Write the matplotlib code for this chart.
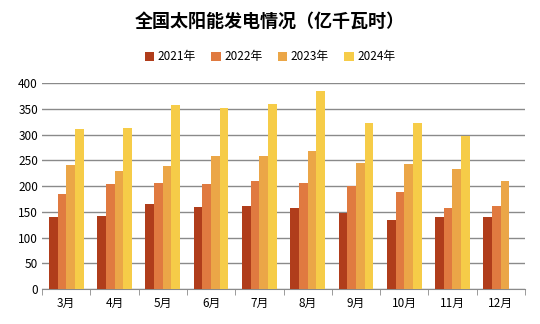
import matplotlib
matplotlib.use('Agg')
import matplotlib.pyplot as plt
import numpy as np

plt.rcParams['font.family'] = ['Noto Sans CJK SC', 'DejaVu Sans']

months = ['3月', '4月', '5月', '6月', '7月', '8月', '9月', '10月', '11月', '12月']
years = ['2021年', '2022年', '2023年', '2024年']
v2021 = [140, 142, 166, 160, 162, 158, 148, 135, 140, 140]
v2022 = [185, 204, 206, 204, 210, 206, 200, 189, 158, 162]
v2023 = [241, 230, 239, 259, 259, 268, 245, 243, 234, 210]
v2024 = [311, 313, 358, 352, 360, 385, 323, 323, 298, np.nan]
colors = ['#B03D1B', '#E07A40', '#EBA647', '#F6CC48']

fig = plt.figure(figsize=(5.4, 3.24), dpi=100)
ax = fig.add_axes([0.078, 0.108, 0.894, 0.635])

x = np.arange(len(months))
w = 0.18
for i, vals in enumerate([v2021, v2022, v2023, v2024]):
    ax.bar(x + (i - 1.5) * w, vals, w, color=colors[i], label=years[i], zorder=3)

ax.set_xlim(-0.5, len(months) - 0.5)
ax.set_ylim(0, 400)
ax.set_yticks(range(0, 401, 50))
ax.yaxis.grid(True, color='#8a8a8a', linewidth=1)
ax.set_axisbelow(True)
for s in ['top', 'right', 'left']:
    ax.spines[s].set_visible(False)
ax.spines['bottom'].set_color('#8a8a8a')
ax.tick_params(axis='y', length=0, labelsize=8.5, pad=3)
ax.set_xticks(x)
ax.set_xticklabels(months, fontsize=8.5)
ax.tick_params(axis='x', which='major', length=0, pad=6)
ax.set_xticks(np.arange(-0.5, len(months)), minor=True)
ax.tick_params(axis='x', which='minor', length=4, color='#8a8a8a')

fig.text(0.5, 0.935, '全国太阳能发电情况（亿千瓦时）', ha='center', va='center',
         fontsize=13, fontweight='bold')
fig.legend(loc='center', bbox_to_anchor=(0.5, 0.825), ncol=4, frameon=False,
           fontsize=8.5, handlelength=0.8, handleheight=0.8, columnspacing=1.3,
           handletextpad=0.3)

fig.savefig('out.png', dpi=100)
